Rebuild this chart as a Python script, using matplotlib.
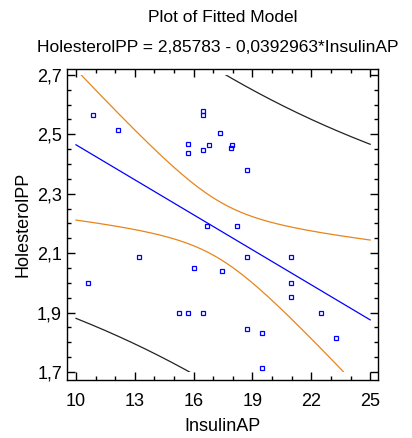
import numpy as np
import matplotlib
matplotlib.use("Agg")
import matplotlib.pyplot as plt
from matplotlib.patches import Rectangle
from matplotlib.ticker import MultipleLocator, FuncFormatter

plt.rcParams['font.family'] = ['Liberation Sans', 'DejaVu Sans']

insulin = [10.85, 12.16, 15.73, 15.73, 16.5, 16.5, 16.48, 16.8, 17.36, 17.94,
           17.9, 18.71, 16.7, 18.2, 13.23, 10.63, 16.0, 17.45, 15.27, 15.73,
           16.48, 18.71, 20.95, 20.95, 20.95, 22.47, 18.71, 19.49, 23.25, 19.49]
holest = [2.565, 2.515, 2.467, 2.436, 2.577, 2.565, 2.447, 2.465, 2.506, 2.465,
          2.455, 2.38, 2.19, 2.19, 2.088, 2.0, 2.05, 2.04, 1.90, 1.90,
          1.90, 2.088, 2.088, 1.999, 1.952, 1.90, 1.844, 1.832, 1.813, 1.712]

# model from the title
b0, b1 = 2.85783, -0.0392963
t95 = 2.048  # t(0.975, n-2)

x = np.array(insulin)
y = np.array(holest)
n = len(x)
resid = y - (b0 + b1 * x)
s = np.sqrt(np.sum(resid ** 2) / (n - 2))
xbar = x.mean()
sxx = np.sum((x - xbar) ** 2)

xs = np.linspace(10, 25, 301)
fit = b0 + b1 * xs
conf = t95 * s * np.sqrt(1 / n + (xs - xbar) ** 2 / sxx)
pred = t95 * s * np.sqrt(1 + 1 / n + (xs - xbar) ** 2 / sxx)

fig = plt.figure(figsize=(4.12, 4.38), dpi=100)
ax = fig.add_axes([0.162, 0.1324, 0.7555, 0.7101])
ax.set_xlim(9.53, 25.4)
ax.set_ylim(1.673, 2.72)

clip = Rectangle((9.53, 1.7), 16, 1.0, transform=ax.transData, visible=False)
ax.add_patch(clip)

orange = '#e8841a'
for yy, c in [(fit, '#0000ff'), (fit + conf, orange), (fit - conf, orange),
              (fit + pred, '#222222'), (fit - pred, '#222222')]:
    ln, = ax.plot(xs, yy, color=c, lw=0.9)
    ln.set_clip_path(clip)

ax.plot(x, y, ls='none', marker='s', ms=3, mfc='none', mec='#0000ff', mew=0.9)

ax.set_xticks([10, 13, 16, 19, 22, 25])
ax.xaxis.set_minor_locator(MultipleLocator(1))
ax.set_yticks([1.7, 1.9, 2.1, 2.3, 2.5, 2.7])
ax.yaxis.set_minor_locator(MultipleLocator(0.05))
ax.yaxis.set_major_formatter(FuncFormatter(lambda v, p: ('%.1f' % v).replace('.', ',')))
ax.tick_params(which='both', direction='in', top=True, right=True, labelsize=13, colors='black')
ax.tick_params(which='major', length=6, width=1)
ax.tick_params(which='minor', length=3, width=1)
ax.tick_params(axis='x', which='major', pad=9)
for sp in ax.spines.values():
    sp.set_linewidth(1)

ax.set_xlabel('InsulinAP', fontsize=13, labelpad=6)
ax.set_ylabel('HolesterolPP', fontsize=13, labelpad=4)

fig.text(0.541, 1 - 18 / 438, 'Plot of Fitted Model', ha='center', va='center', fontsize=12.5)
fig.text(0.528, 1 - 47 / 438, 'HolesterolPP = 2,85783 - 0,0392963*InsulinAP',
         ha='center', va='center', fontsize=12.5)

fig.savefig('out.png', dpi=100)
